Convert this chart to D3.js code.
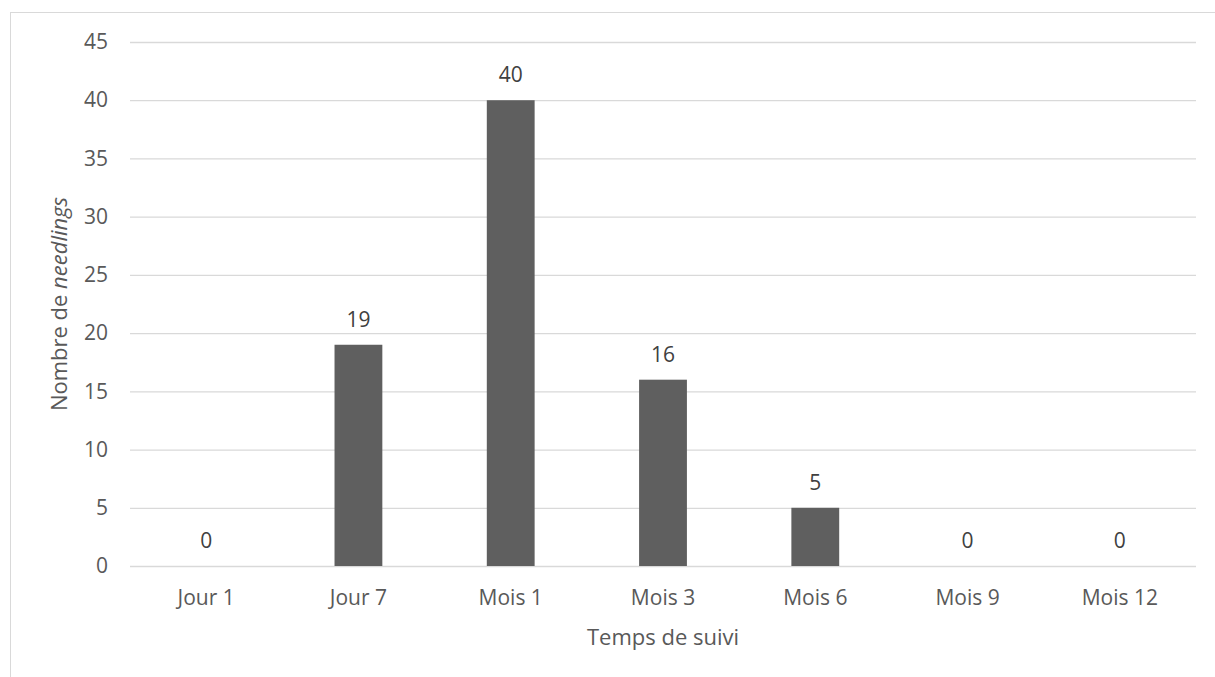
<!DOCTYPE html>
<html>
<head>
<meta charset="utf-8">
<script src="https://cdn.jsdelivr.net/npm/d3@7"></script>
<style>
  body { margin: 0; background: #fff; }
  #chart-1 { width: 1215px; height: 677px; }
  text { font-family: "Open Sans", Lato, sans-serif; fill: #595959; }
</style>
</head>
<body>
<div id="chart-1"></div>
<script>
var categories = ["Jour 1", "Jour 7", "Mois 1", "Mois 3", "Mois 6", "Mois 9", "Mois 12"];
var values = [0, 19, 40, 16, 5, 0, 0];
var yTicks = [0, 5, 10, 15, 20, 25, 30, 35, 40, 45];

var data = categories.map(function(c, i) { return {cat: c, value: values[i]}; });

var margin = {top: 42, right: 19, bottom: 111, left: 130},
    width = 1215 - margin.left - margin.right,
    height = 677 - margin.top - margin.bottom;

var svg = d3.select("#chart-1")
    .append("svg")
    .attr("width", 1215)
    .attr("height", 677);

// outer chart frame
svg.append("rect")
    .attr("x", 10.5)
    .attr("y", 12.5)
    .attr("width", 1300)
    .attr("height", 800)
    .style("fill", "none")
    .style("stroke", "#d9d9d9")
    .style("stroke-width", "1px");

var g = svg.append("g")
    .attr("transform", "translate(" + margin.left + "," + margin.top + ")");

var x = d3.scaleBand()
    .domain(categories)
    .range([0, width])
    .paddingInner(0.686)
    .paddingOuter(0.343);

var y = d3.scaleLinear()
    .domain([0, 45])
    .range([height, 0]);

// gridlines
var yAxis = d3.axisLeft(y)
    .tickValues(yTicks)
    .tickSize(-width)
    .tickPadding(22);

g.append("g")
    .attr("class", "y axis")
    .call(yAxis)
    .call(function(a) {
        a.select(".domain").remove();
        a.selectAll(".tick line").style("stroke", "#d9d9d9").style("stroke-width", "1.3px");
        a.selectAll(".tick text").style("font-size", "21px").style("fill", "#595959");
    });

var xAxis = d3.axisBottom(x)
    .tickSize(0)
    .tickPadding(24);

g.append("g")
    .attr("class", "x axis")
    .attr("transform", "translate(0," + height + ")")
    .call(xAxis)
    .call(function(a) {
        a.select(".domain").remove();
        a.selectAll(".tick text").style("font-size", "21px").style("fill", "#595959");
    });

// bars
g.selectAll(".bar")
    .data(data)
    .enter().append("rect")
    .attr("class", "bar")
    .attr("x", function(d) { return x(d.cat); })
    .attr("width", x.bandwidth())
    .attr("y", function(d) { return y(d.value); })
    .attr("height", function(d) { return height - y(d.value); })
    .style("fill", "#5f5f5f");

// value labels
g.selectAll(".label")
    .data(data)
    .enter().append("text")
    .attr("class", "label")
    .attr("x", function(d) { return x(d.cat) + x.bandwidth() / 2; })
    .attr("y", function(d) { return y(d.value) - 18; })
    .attr("text-anchor", "middle")
    .style("font-size", "21px")
    .style("fill", "#404040")
    .text(function(d) { return d.value; });

// axis titles
svg.append("text")
    .attr("x", margin.left + width / 2)
    .attr("y", 645)
    .attr("text-anchor", "middle")
    .style("font-size", "22px")
    .text("Temps de suivi");

var yt = svg.append("text")
    .attr("transform", "translate(67," + (margin.top + height / 2) + ") rotate(-90)")
    .attr("text-anchor", "middle")
    .style("font-size", "22px");
yt.append("tspan").text("Nombre de ");
yt.append("tspan").style("font-style", "italic").text("needlings");
</script>
</body>
</html>
